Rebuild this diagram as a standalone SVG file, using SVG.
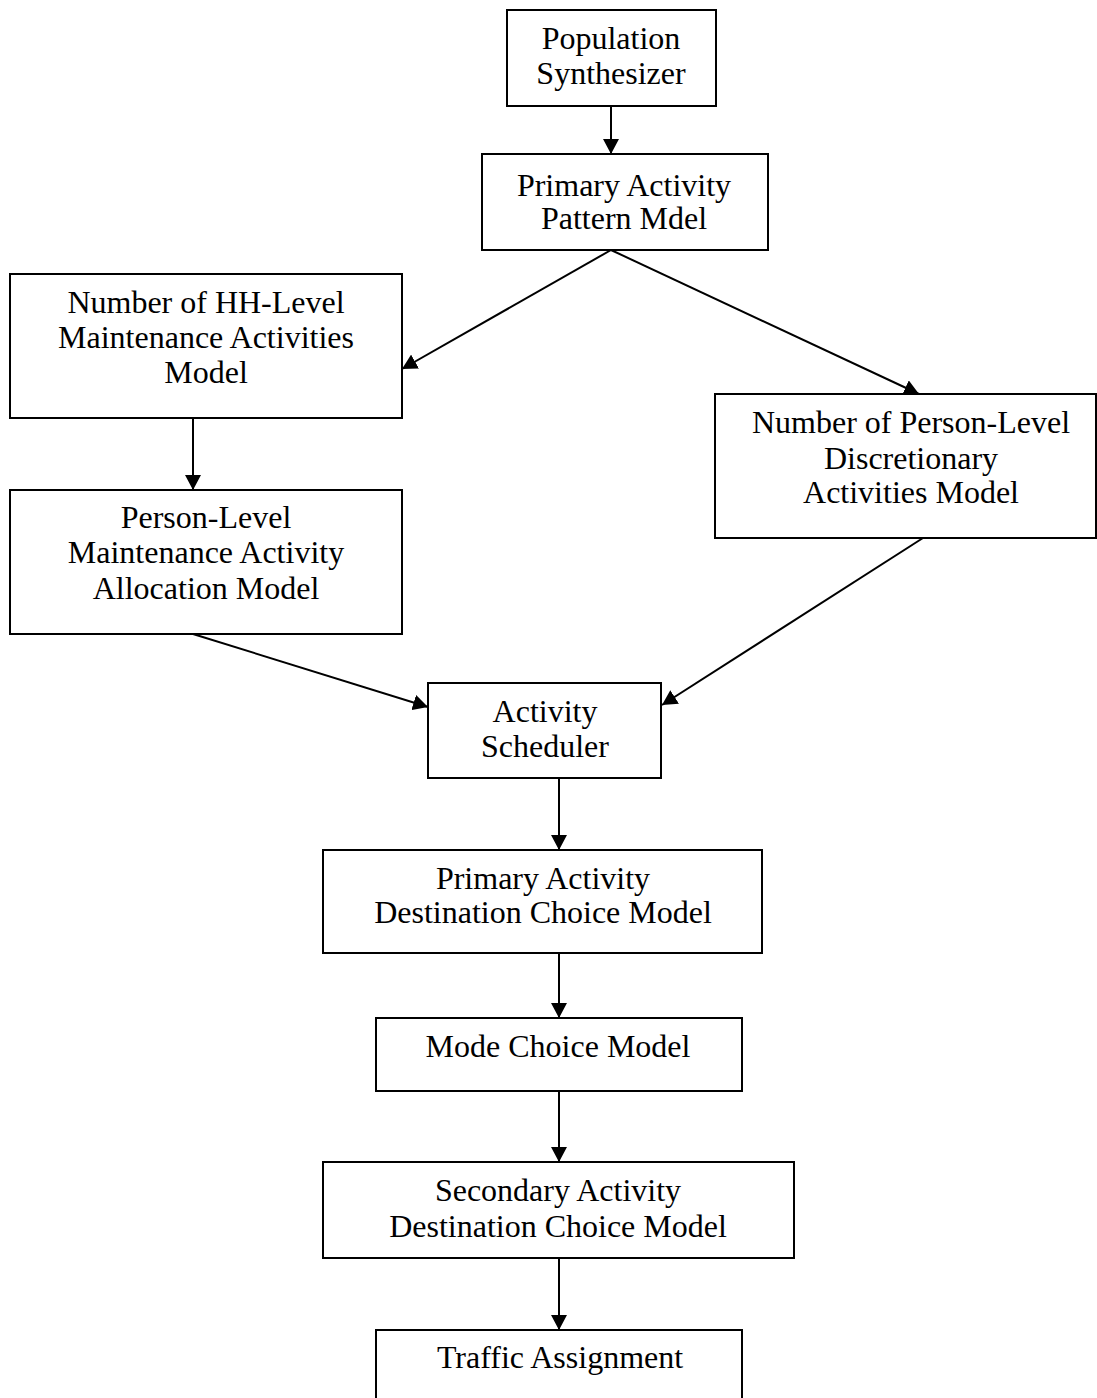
<svg xmlns="http://www.w3.org/2000/svg" width="1097" height="1398" viewBox="0 0 1097 1398">
<style>
.box{fill:#fff;stroke:#000;stroke-width:2}
.lbl{font-family:"Liberation Serif","Times New Roman",serif;font-size:32px;fill:#000;text-anchor:middle}
.edge{stroke:#000;stroke-width:2;fill:none;marker-end:url(#ah)}
</style>
<defs>
<marker id="ah" markerUnits="userSpaceOnUse" markerWidth="16" markerHeight="16" refX="15" refY="8" orient="auto">
<path d="M0,0 L15,8 L0,16 z" fill="#000"/>
</marker>
</defs>
<rect width="1097" height="1398" fill="#fff"/>
<g id="connectors">
<line class="edge" x1="611" y1="106" x2="611" y2="154"/>
<line class="edge" x1="611" y1="250" x2="402" y2="369"/>
<line class="edge" x1="611" y1="250" x2="919" y2="394"/>
<line class="edge" x1="193" y1="418" x2="193" y2="490"/>
<line class="edge" x1="193" y1="634" x2="428" y2="707"/>
<line class="edge" x1="923" y1="538" x2="662" y2="705"/>
<line class="edge" x1="559" y1="778" x2="559" y2="850"/>
<line class="edge" x1="559" y1="953" x2="559" y2="1018"/>
<line class="edge" x1="559" y1="1091" x2="559" y2="1162"/>
<line class="edge" x1="559" y1="1258" x2="559" y2="1330"/>
</g>
<g id="n1">
<rect class="box" x="507" y="10" width="209" height="96"/>
<text class="lbl" x="611" y="49">Population</text>
<text class="lbl" x="611" y="84">Synthesizer</text>
</g>
<g id="n2">
<rect class="box" x="482" y="154" width="286" height="96"/>
<text class="lbl" x="624" y="196">Primary Activity</text>
<text class="lbl" x="624" y="229">Pattern Mdel</text>
</g>
<g id="n3">
<rect class="box" x="10" y="274" width="392" height="144"/>
<text class="lbl" x="206" y="313">Number of HH-Level</text>
<text class="lbl" x="206" y="348">Maintenance Activities</text>
<text class="lbl" x="206" y="383">Model</text>
</g>
<g id="n4">
<rect class="box" x="10" y="490" width="392" height="144"/>
<text class="lbl" x="206" y="528">Person-Level</text>
<text class="lbl" x="206" y="563">Maintenance Activity</text>
<text class="lbl" x="206" y="599">Allocation Model</text>
</g>
<g id="n5">
<rect class="box" x="715" y="394" width="381" height="144"/>
<text class="lbl" x="911" y="433">Number of Person-Level</text>
<text class="lbl" x="911" y="469">Discretionary</text>
<text class="lbl" x="911" y="503">Activities Model</text>
</g>
<g id="n6">
<rect class="box" x="428" y="683" width="233" height="95"/>
<text class="lbl" x="545" y="722">Activity</text>
<text class="lbl" x="545" y="757">Scheduler</text>
</g>
<g id="n7">
<rect class="box" x="323" y="850" width="439" height="103"/>
<text class="lbl" x="543" y="889">Primary Activity</text>
<text class="lbl" x="543" y="923">Destination Choice Model</text>
</g>
<g id="n8">
<rect class="box" x="376" y="1018" width="366" height="73"/>
<text class="lbl" x="558" y="1057">Mode Choice Model</text>
</g>
<g id="n9">
<rect class="box" x="323" y="1162" width="471" height="96"/>
<text class="lbl" x="558" y="1201">Secondary Activity</text>
<text class="lbl" x="558" y="1237">Destination Choice Model</text>
</g>
<g id="n10">
<rect class="box" x="376" y="1330" width="366" height="100"/>
<text class="lbl" x="560" y="1368">Traffic Assignment</text>
</g>
</svg>
